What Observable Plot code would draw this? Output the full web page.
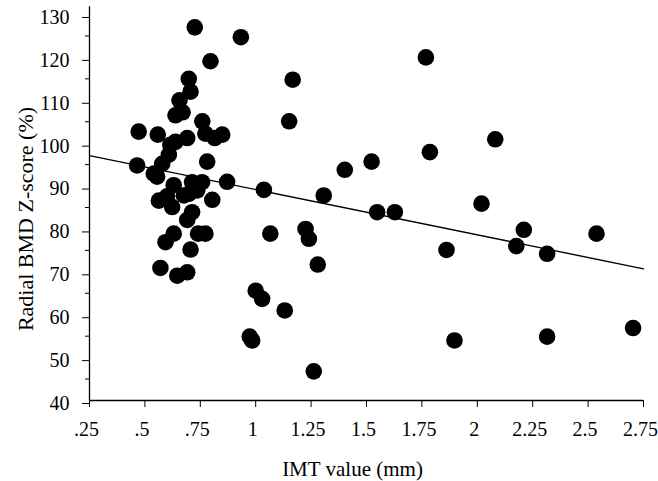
<!DOCTYPE html>
<html>
<head>
<meta charset="utf-8">
<script src="https://cdn.jsdelivr.net/npm/d3@7"></script>
<script src="https://cdn.jsdelivr.net/npm/@observablehq/plot@0.6"></script>
<style>
  html, body { margin: 0; padding: 0; background: white; }
  svg, svg text { font-family: 'Liberation Serif', 'Times New Roman', serif !important; }
</style>
</head>
<body>
<div id="chart"></div>
<script>
// IMT value (mm) of each subject
const imt = [
  0.725, 0.933, 0.796, 0.698, 0.706, 0.656, 0.638, 0.670, 0.759, 0.472,
  0.558, 0.773, 0.815, 0.849, 0.691, 0.638, 0.615, 0.608, 0.578, 0.781,
  0.465, 0.540, 0.555, 0.871, 1.037, 0.630, 0.713, 0.758, 0.698, 0.736,
  0.676, 0.804, 0.563, 0.600, 0.623, 0.713, 0.691, 0.630, 0.593, 0.740,
  0.773, 0.706, 0.570, 0.646, 0.691, 1.000, 1.029, 1.131, 0.973, 0.984,
  1.066, 1.167, 1.151, 1.768, 2.081, 1.786, 1.523, 1.402, 1.307, 1.548,
  1.628, 2.019, 2.210, 2.176, 2.315, 2.538, 1.861, 1.225, 1.240, 1.280,
  1.897, 2.315, 2.703, 1.262
];
// Radial BMD Z-score (%) of each subject
const bmd = [
  127.0, 124.7, 119.1, 115.0, 112.0, 110.0, 106.5, 107.2, 105.1, 102.7,
  102.0, 102.2, 101.2, 102.0, 101.2, 100.3, 99.6, 97.3, 95.2, 95.7,
  94.8, 92.9, 92.2, 91.0, 89.1, 90.2, 90.9, 90.9, 88.2, 89.0,
  87.8, 86.8, 86.6, 87.6, 85.1, 83.9, 82.1, 78.9, 76.9, 78.9,
  78.9, 75.2, 70.9, 69.1, 69.9, 65.6, 63.7, 61.0, 54.9, 54.0,
  78.9, 114.8, 105.1, 120.0, 100.9, 97.9, 95.7, 93.8, 87.8, 83.9,
  83.9, 85.9, 79.8, 76.0, 74.2, 78.9, 75.1, 80.0, 77.7, 71.7,
  54.0, 54.9, 56.9, 46.8
];
// fitted regression line
const fitX = [0.25, 2.75];
const fitY = [97.1, 70.7];

const xTicks = [0.25, 0.5, 0.75, 1, 1.25, 1.5, 1.75, 2, 2.25, 2.5, 2.75];
const xTickLabels = [".25", ".5", ".75", "1", "1.25", "1.5", "1.75", "2", "2.25", "2.5", "2.75"];
const yTicks = [40, 50, 60, 70, 80, 90, 100, 110, 120, 130];
const yMinorTicks = [45, 55, 65, 75, 85, 95, 105, 115, 125];
const xTitle = "IMT value (mm)";
const yTitle = "Radial BMD Z-score (%)";

const serif = "'Liberation Serif', 'Times New Roman', serif";
const points = imt.map((v, i) => ({imt: v, bmd: bmd[i]}));
const fit = fitX.map((v, i) => ({x: v, y: fitY[i]}));
const xLabelMap = new Map(xTicks.map((t, i) => [t, xTickLabels[i]]));

const chart = Plot.plot({
  width: 658,
  height: 481,
  marginLeft: 89,
  marginRight: 15,
  marginTop: 14,
  marginBottom: 81,
  x: {domain: [0.25, 2.75], label: null},
  y: {domain: [40, 130], label: null},
  style: {
    fontFamily: serif,
    fontSize: "20px",
    color: "black",
    background: "white"
  },
  marks: [
    Plot.ruleX([0.25], {y1: 40, y2: 131.8, stroke: "black", strokeWidth: 1.3}),
    Plot.ruleY([40], {x1: 0.25, x2: 2.75, stroke: "black", strokeWidth: 1.3}),
    Plot.axisY(yTicks, {tickSize: 7, tickPadding: 13, dy: 3, fontSize: 20, fontFamily: serif, label: null}),
    Plot.axisY(yMinorTicks, {tickSize: 4, tickFormat: () => "", label: null}),
    Plot.axisX(xTicks, {tickSize: 7, tickFormat: () => "", label: null}),
    Plot.axisX(xTicks, {tickSize: 0, tickPadding: 21, dx: -3, fontSize: 20, fontFamily: serif, tickFormat: d => xLabelMap.get(d), label: null}),
    Plot.line(fit, {x: "x", y: "y", stroke: "black", strokeWidth: 1.4}),
    Plot.dot(points, {x: "imt", y: "bmd", r: 8.3, fill: "black", stroke: null}),
    Plot.text([xTitle], {frameAnchor: "bottom", dx: -14, dy: 69, lineAnchor: "middle", textAnchor: "middle", fontSize: 21, fontFamily: serif, fill: "black"}),
    Plot.text([yTitle], {frameAnchor: "left", dx: -63.5, dy: 11.5, rotate: -90, lineAnchor: "middle", textAnchor: "middle", fontSize: 22, fontFamily: serif, fill: "black"})
  ]
});
document.getElementById("chart").appendChild(chart);
</script>
</body>
</html>
